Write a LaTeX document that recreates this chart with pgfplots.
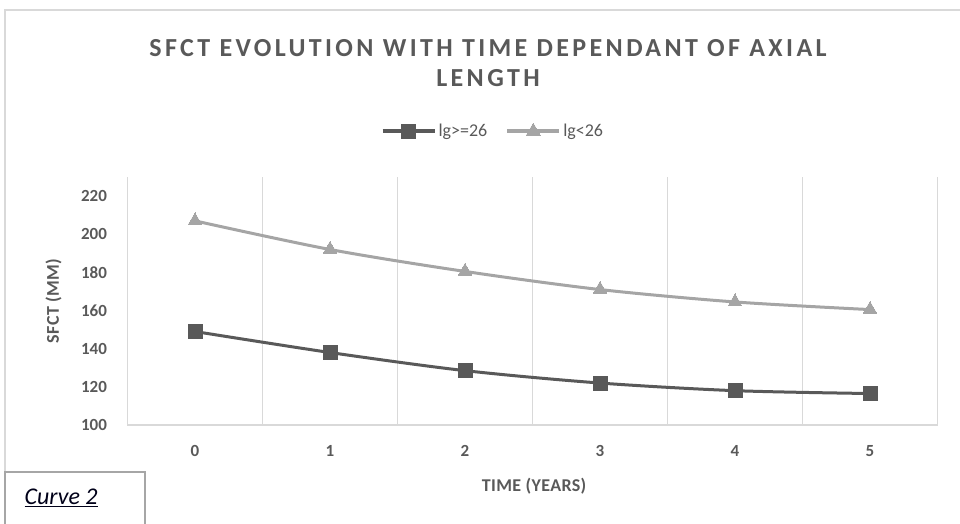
\documentclass[border=0pt]{standalone}
\usepackage{pgfplots}
\pgfplotsset{compat=1.18}
\usepackage{fontspec}
\setmainfont{Carlito}
\definecolor{txt}{HTML}{595959}
\definecolor{sdark}{HTML}{595959}
\definecolor{slight}{HTML}{A5A5A5}
\definecolor{gridc}{HTML}{D9D9D9}
\begin{document}
\begin{tikzpicture}[x=1pt,y=1pt]
\path[use as bounding box] (0,0) rectangle (960,-524);
% outer chart frame
\draw[gridc, line width=2pt] (5,-530) -- (5,-10) -- (970,-10);
% title
\node[align=center, text=txt, font=\fontsize{26}{30}\selectfont\bfseries\addfontfeatures{LetterSpace=13}] at (488,-63) {SFCT EVOLUTION WITH TIME DEPENDANT OF AXIAL\\LENGTH};
\begin{axis}[
  at={(127.5pt,-425pt)}, anchor=south west,
  scale only axis, width=810pt, height=248pt,
  xmin=-0.5, xmax=5.5, ymin=100, ymax=230,
  xtick={0,1,2,3,4,5},
  ytick={100,120,140,160,180,200,220},
  minor xtick={0.5,1.5,2.5,3.5,4.5},
  minor x grid style={gridc, line width=1.2pt},
  xminorgrids=true,
  major tick length=0pt, minor tick length=0pt,
  axis line style={draw=none},
  tick label style={text=txt, font=\fontsize{17}{20}\selectfont\bfseries},
  /pgf/number format/assume math mode=true,
  xticklabel style={yshift=-17pt},
  yticklabel style={xshift=-17pt},
  xlabel={TIME (YEARS)},
  ylabel={SFCT (MM)},
  label style={text=txt, font=\fontsize{18}{20}\selectfont\bfseries\addfontfeatures{LetterSpace=2}},
  xlabel style={at={(axis description cs:0.502,-0.246)}, anchor=center},
  ylabel style={at={(axis description cs:-0.0914,0.5)}, anchor=center},
  legend style={at={(0.451,1.185)}, anchor=center, draw=none, fill=none,
    font=\fontsize{18}{20}\selectfont, text=txt,
    legend columns=2, /tikz/every even column/.append style={column sep=16pt},
    legend cell align=left, inner sep=0pt},
  legend image code/.code={
    \draw[#1, mark=none, line width=4pt] (0pt,0pt) -- (52pt,0pt);
    \draw[#1, only marks] plot coordinates {(26pt,0pt)};
  },
  clip=false,
]
\draw[gridc, line width=1.5pt] (rel axis cs:0,1) -- (rel axis cs:0,0) -- (rel axis cs:1,0) -- (rel axis cs:1,1);
\addplot[sdark, line width=3pt, smooth, tension=0.5, mark=square*, mark size=7pt, mark options={solid, fill=sdark, line width=0pt}]
  coordinates {(0,149) (1,138) (2,128.5) (3,122) (4,118) (5,116.5)};
\addlegendentry{lg>=26}
\addplot[slight, line width=3pt, smooth, tension=0.5, mark=triangle*, mark size=8pt, mark options={solid, fill=slight, line width=0pt}]
  coordinates {(0,207) (1,192) (2,180.5) (3,171) (4,164.5) (5,160.5)};
\addlegendentry{lg<26}
\end{axis}
% Curve 2 label box
\draw[gray!70, line width=1.5pt, fill=white] (5,-472) rectangle (145,-540);
\node[anchor=west, font=\fontsize{24}{28}\selectfont\itshape, text=black!90!blue] at (21,-498) {\underline{Curve 2}};
\end{tikzpicture}
\end{document}
